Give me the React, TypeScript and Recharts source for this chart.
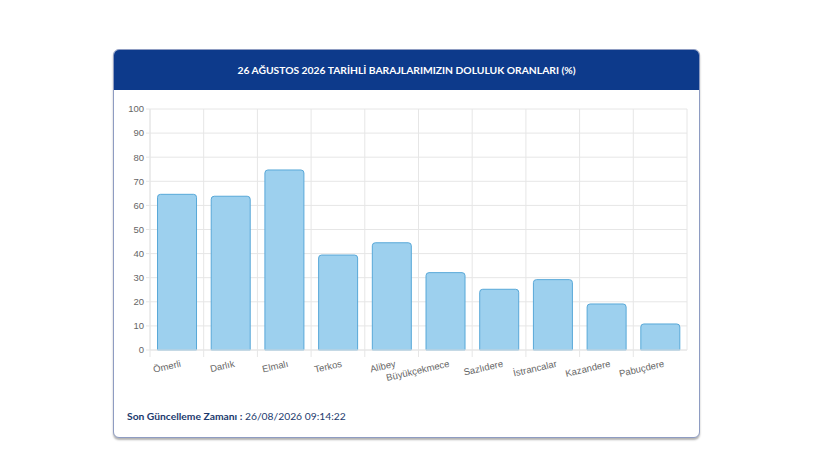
import React from 'react';
import { BarChart, Bar, XAxis, YAxis, CartesianGrid } from 'recharts';

// dam fill rates
const dams = ['Ömerli', 'Darlık', 'Elmalı', 'Terkos', 'Alibey', 'Büyükçekmece', 'Sazlıdere', 'İstrancalar', 'Kazandere', 'Pabuçdere'];
const rates = [64.6, 63.8, 74.7, 39.4, 44.5, 32.1, 25.2, 29.2, 19.1, 10.8];
const yTicks = [0, 10, 20, 30, 40, 50, 60, 70, 80, 90, 100];

const data = dams.map((name, i) => ({ name, rate: rates[i] }));

const GRID = '#e6e6e6';
const TICK = '#666';

function SlantTick(props: any) {
  const { x, y, payload } = props;
  const half = payload && payload.offset ? payload.offset : 0;
  return (
    <g>
      <line x1={x - half} y1={y - 8} x2={x - half} y2={y - 1} stroke={GRID} />
      <text
        x={x + 3}
        y={y + 2}
        dy="0.71em"
        textAnchor="end"
        fill={TICK}
        fontSize={9.5}
        fontFamily="'Liberation Sans', Arial, sans-serif"
        transform={`rotate(-13, ${x + 3}, ${y + 2})`}
      >
        {payload.value}
      </text>
    </g>
  );
}

export default function App() {
  return (
    <div style={{ position: 'absolute', left: 0, top: 0, width: 820, height: 461, background: '#fff' }}>
      <div
        style={{
          position: 'absolute',
          left: 113,
          top: 49,
          width: 585,
          height: 387,
          border: '1px solid #8e9cc2',
          borderRadius: 6,
          boxShadow: '0 2px 2px rgba(0,0,0,0.3)',
          overflow: 'hidden',
          background: '#fff',
        }}
      >
        <div
          style={{
            height: 40,
            background: '#0d3a8b',
            color: '#fff',
            fontFamily: 'Lato, sans-serif',
            fontWeight: 700,
            fontSize: 10.3,
            display: 'flex',
            alignItems: 'center',
            justifyContent: 'center',
          }}
        >
          26 AĞUSTOS 2026 TARİHLİ BARAJLARIMIZIN DOLULUK ORANLARI (%)
        </div>
        <div
          style={{
            position: 'absolute',
            left: 13,
            top: 360,
            fontFamily: 'Lato, sans-serif',
            fontSize: 10.3,
            color: '#1c3a6e',
          }}
        >
          <span style={{ fontWeight: 700 }}>Son Güncelleme Zamanı :</span> 26/08/2026 09:14:22
        </div>
      </div>
      <div style={{ position: 'absolute', left: 113, top: 95 }}>
        <BarChart
          width={587}
          height={290}
          data={data}
          margin={{ top: 14, right: 13, bottom: 5, left: 0 }}
          barCategoryGap="14%"
        >
          <CartesianGrid
            stroke={GRID}
            verticalCoordinatesGenerator={({ offset }: any) =>
              dams.map((_, i) => offset.left + (i * offset.width) / dams.length).concat(offset.left + offset.width)
            }
          />
          <XAxis
            dataKey="name"
            interval={0}
            height={30}
            axisLine={{ stroke: GRID }}
            tickLine={false}
            tick={<SlantTick />}
          />
          <YAxis
            domain={[0, 100]}
            ticks={yTicks}
            width={37}
            axisLine={{ stroke: GRID }}
            tickLine={{ stroke: GRID }}
            tickSize={4}
            tick={{ fill: TICK, fontSize: 9.5, fontFamily: "'Liberation Sans', Arial, sans-serif" }}
          />
          <Bar
            dataKey="rate"
            fill="#9dd0ee"
            stroke="#58a8d8"
            strokeWidth={1}
            radius={[3, 3, 0, 0]}
            isAnimationActive={false}
          />
        </BarChart>
      </div>
    </div>
  );
}
